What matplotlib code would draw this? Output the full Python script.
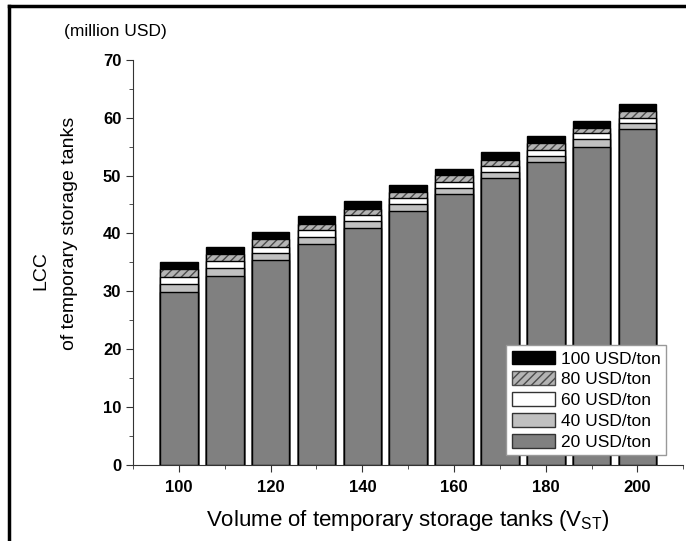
import matplotlib
matplotlib.use('Agg')
import matplotlib.pyplot as plt
from matplotlib.lines import Line2D
from matplotlib.patches import Patch
from matplotlib.ticker import MultipleLocator

# 储罐容积 V_ST
volume = [100, 110, 120, 130, 140, 150, 160, 170, 180, 190, 200]
# 不同单价下的LCC (million USD)
lcc_20 = [29.8, 32.7, 35.4, 38.2, 41.0, 43.9, 46.8, 49.5, 52.3, 55.0, 58.0]
lcc_40 = [31.2, 34.0, 36.6, 39.4, 42.2, 45.1, 47.8, 50.6, 53.4, 56.3, 59.1]
lcc_60 = [32.5, 35.2, 37.7, 40.6, 43.2, 46.1, 48.9, 51.7, 54.5, 57.3, 60.0]
lcc_80 = [33.8, 36.4, 39.0, 41.7, 44.3, 47.2, 50.1, 52.7, 55.6, 58.3, 61.1]
lcc_100 = [35.0, 37.7, 40.3, 43.0, 45.6, 48.4, 51.1, 54.0, 56.8, 59.5, 62.3]
labels = ['100 USD/ton', '80 USD/ton', '60 USD/ton', '40 USD/ton', '20 USD/ton']

plt.rcParams['font.family'] = ['Liberation Sans', 'DejaVu Sans']

fig = plt.figure(figsize=(6.86, 5.41), dpi=100)
ax = fig.add_axes([0.194, 0.1405, 0.802, 0.749])

w = 8.2
# 从大到小叠放
ax.bar(volume, lcc_100, w, color='black', edgecolor='black', linewidth=1, zorder=2)
ax.bar(volume, lcc_80, w, color='#b4b4b4', edgecolor='#4a4a4a', hatch='////', linewidth=0, zorder=3)
ax.bar(volume, lcc_80, w, fill=False, edgecolor='black', linewidth=1, zorder=3.5)
ax.bar(volume, lcc_60, w, color='white', edgecolor='black', linewidth=1, zorder=4)
ax.bar(volume, lcc_40, w, color='#c0c0c0', edgecolor='black', linewidth=1, zorder=5)
ax.bar(volume, lcc_20, w, color='#808080', edgecolor='black', linewidth=1, zorder=6)

ax.set_xlim(90, 210)
ax.set_ylim(0, 70)
ax.xaxis.set_major_locator(MultipleLocator(20))
ax.xaxis.set_minor_locator(MultipleLocator(10))
ax.yaxis.set_major_locator(MultipleLocator(10))
ax.yaxis.set_minor_locator(MultipleLocator(5))
ax.spines['top'].set_visible(False)
ax.spines['right'].set_visible(False)
ax.spines['left'].set_color('#333333')
ax.spines['bottom'].set_color('#333333')
ax.tick_params(which='major', length=5, color='#333333', labelsize=12)
ax.tick_params(which='minor', length=3, color='#333333')
ax.tick_params(axis='x', pad=6)
for t in ax.get_xticklabels() + ax.get_yticklabels():
    t.set_fontweight('bold')

ax.set_xlabel('Volume of temporary storage tanks (V$_{\\mathregular{ST}}$)', fontsize=16, labelpad=9)
fig.text(0.060, 0.499, 'LCC', fontsize=14, rotation=90, ha='center', va='center')
fig.text(0.102, 0.569, 'of temporary storage tanks', fontsize=14, rotation=90, ha='center', va='center')
fig.text(0.168, 0.941, '(million USD)', fontsize=12.5, ha='center', va='center')

handles = [
    Patch(facecolor='black', edgecolor='black'),
    Patch(facecolor='#b4b4b4', edgecolor='#4a4a4a', hatch='////'),
    Patch(facecolor='white', edgecolor='#333333'),
    Patch(facecolor='#c0c0c0', edgecolor='#333333'),
    Patch(facecolor='#808080', edgecolor='#333333'),
]
leg = ax.legend(handles, labels, loc='lower right', bbox_to_anchor=(0.978, 0.012),
                fontsize=12.5, fancybox=False, framealpha=1, edgecolor='#999999',
                handlelength=2.5, handleheight=0.85, handletextpad=0.35,
                labelspacing=0.28, borderpad=0.3, borderaxespad=0.3)
leg.set_zorder(10)

# 外框（截图边框）
fig.add_artist(Line2D([0.013, 0.013], [0, 0.988], color='black', linewidth=2.5, transform=fig.transFigure))
fig.add_artist(Line2D([0.013, 1.0], [0.988, 0.988], color='black', linewidth=2.5, transform=fig.transFigure))

plt.savefig('out.png', dpi=100)
